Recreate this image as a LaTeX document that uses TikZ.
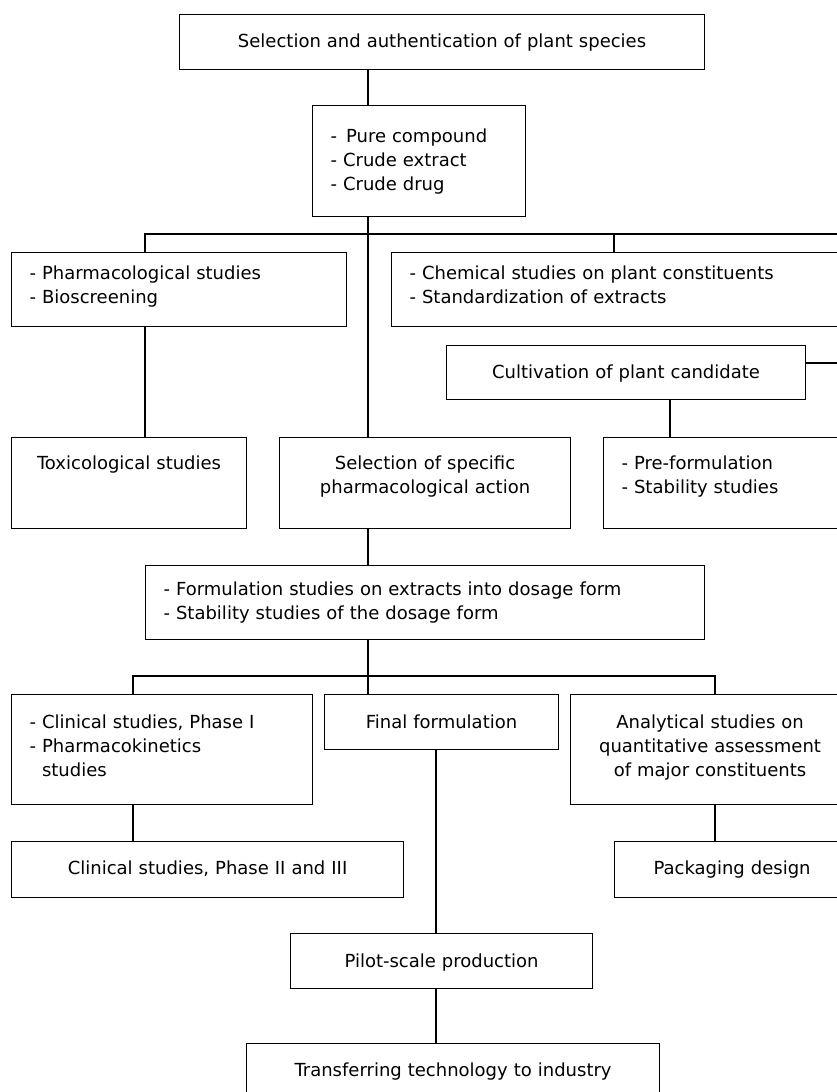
\documentclass[tikz,border=0pt]{standalone}
\usepackage{fontspec}
\setmainfont{DejaVu Sans}
\usetikzlibrary{calc}
\tikzset{
  stage/.style={draw, line width=1.1pt, anchor=north west, inner xsep=18pt, inner ysep=0pt,
    font=\fontsize{18}{24}\selectfont},
  lbox/.style={stage, align=left},
  cbox/.style={stage, align=center},
  link/.style={line width=1.1pt},
}
\begin{document}
\begin{tikzpicture}[x=1pt,y=-1pt]
\useasboundingbox (0,0) rectangle (837,1092);
\clip (0,0) rectangle (837,1092);
% boxes, top left corners
\node[cbox, text width=489pt, text height=33pt, text depth=22pt] (species) at (179,14) {Selection and authentication of plant species};
\node[lbox, text width=177pt, text height=37pt, text depth=74pt] (material) at (312,105) {- \,Pure compound\\- Crude extract\\- Crude drug};
\node[lbox, text width=299pt, text height=27pt, text depth=47pt] (pharm) at (11,252) {- Pharmacological studies\\- Bioscreening};
\node[lbox, text width=422pt, text height=27pt, text depth=47pt] (chem) at (391,252) {- Chemical studies on plant constituents\\- Standardization of extracts};
\node[cbox, text width=323pt, text height=33pt, text depth=21pt] (cult) at (446,345) {Cultivation of plant candidate};
\node[cbox, text width=199pt, text height=32pt, text depth=59pt] (tox) at (11,437) {Toxicological studies};
\node[cbox, text width=255pt, text height=32pt, text depth=59pt] (specific) at (279,437) {Selection of specific\\pharmacological action};
\node[lbox, text width=210pt, text height=32pt, text depth=59pt] (preform) at (603,437) {- Pre-formulation\\- Stability studies};
\node[lbox, text width=523pt, text height=30pt, text depth=44pt] (formul) at (145,565) {- Formulation studies on extracts into dosage form\\- Stability studies of the dosage form};
\node[lbox, text width=265pt, text height=34pt, text depth=76pt] (clin1) at (11,694) {- Clinical studies, Phase I\\- Pharmacokinetics\\\phantom{- }studies};
\node[cbox, text width=198pt, text height=34pt, text depth=21pt] (finalf) at (324,694) {Final formulation};
\node[cbox, text width=243pt, text height=34pt, text depth=76pt] (analyt) at (570,694) {Analytical studies on\\quantitative assessment\\of major constituents};
\node[cbox, text width=356pt, text height=33pt, text depth=23pt] (clin2) at (11,841) {Clinical studies, Phase II and III};
\node[cbox, text width=199pt, text height=33pt, text depth=23pt] (packag) at (614,841) {Packaging design};
\node[cbox, text width=266pt, text height=34pt, text depth=21pt] (pilot) at (290,933) {Pilot-scale production};
\node[cbox, text width=377pt, text height=33pt, text depth=24pt] (transfer) at (246,1043) {Transferring technology to industry};
% x positions of the vertical lines
\coordinate (spine) at (368,0);
\coordinate (leftx) at (145,0);
\coordinate (chemx) at (614,0);
\coordinate (cultx) at (670,0);
\coordinate (clinx) at (133,0);
\coordinate (anax) at (715,0);
\coordinate (pilotx) at (436,0);
\coordinate (rail) at (846,234);
\coordinate (bus2) at (715,676);
% connectors
\draw[link] (species.south -| spine) -- (material.north -| spine);
\draw[link] (material.south -| spine) -- (specific.north -| spine);
\draw[link] (pharm.north -| leftx) |- (rail) |- ($(cult.north east)+(0,18)$);
\draw[link] (chem.north -| chemx) -- (rail -| chemx);
\draw[link] (pharm.south -| leftx) -- (tox.north -| leftx);
\draw[link] (cult.south -| cultx) -- (preform.north -| cultx);
\draw[link] (specific.south -| spine) -- (formul.north -| spine);
\draw[link] (formul.south -| spine) -- (finalf.north -| spine);
\draw[link] (clin1.north -| clinx) |- (bus2) -- (analyt.north -| bus2);
\draw[link] (clin1.south -| clinx) -- (clin2.north -| clinx);
\draw[link] (analyt.south -| anax) -- (packag.north -| anax);
\draw[link] (finalf.south -| pilotx) -- (pilot.north -| pilotx);
\draw[link] (pilot.south -| pilotx) -- (transfer.north -| pilotx);
\end{tikzpicture}
\end{document}
